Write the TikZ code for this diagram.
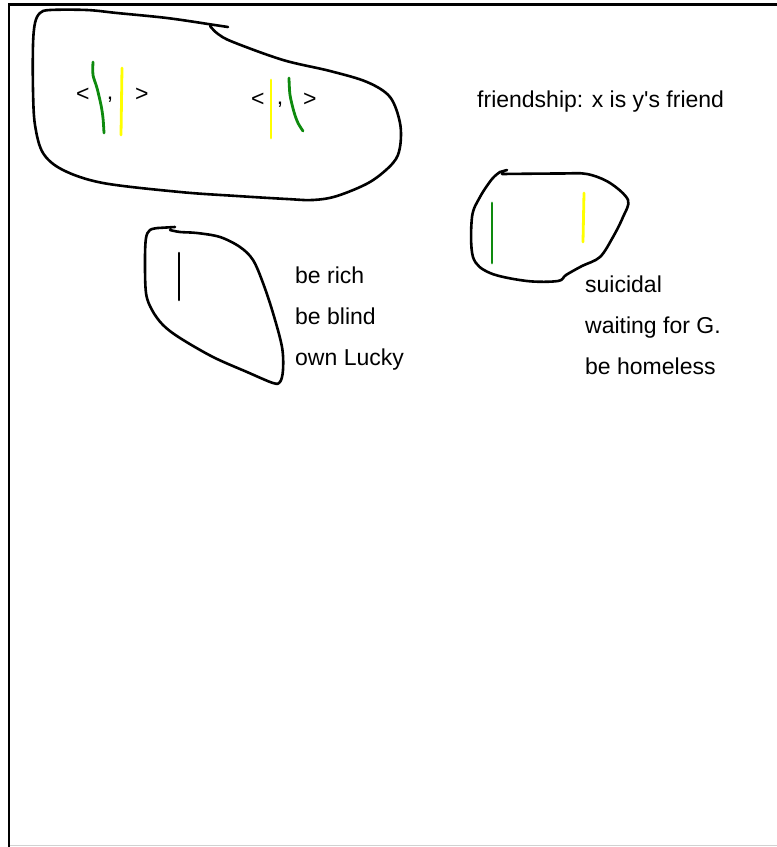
\documentclass[tikz,border=0pt]{standalone}
\usepackage{fontspec}
\newfontfamily\lsans{Liberation Sans}
\usetikzlibrary{positioning}
\definecolor{cG}{HTML}{0E8A0E}
\definecolor{cY}{HTML}{FFFF00}
\tikzset{
  blob/.style={line width=2.6pt,line cap=round,line join=round},
  gline/.style={cG,line width=2.8pt,line cap=round},
  yline/.style={cY,line width=2.8pt,line cap=round},
  lbl/.style={anchor=base west,inner sep=0pt,font=\lsans\fontsize{23}{27}\selectfont},
  pun/.style={anchor=base,inner sep=0pt,font=\lsans\fontsize{23}{27}\selectfont},
}

\begin{document}
\begin{tikzpicture}[x=1pt,y=-1pt]
  \useasboundingbox (0,0) rectangle (777,847);
  % frame
  \draw[line width=2.2pt] (9,847) -- (9,4.5) -- (777,4.5);
  \draw[black!18,line width=1.5pt] (10,845.5) -- (777,845.5);

  % big blob with the two pairs
  \draw[blob] (228,27) -- (208,24)
    plot[smooth,tension=.55] coordinates {(208,24) (167,18) (117,13) (87,10)
      (50,10) (40,13) (35,23) (33,45) (33,90) (35,125) (43,153) (63,170)
      (103,183) (180,192) (237,196) (287,199) (313,200) (337,196) (370,182)
      (393,163) (400,147) (400,123) (390,97) (367,82) (330,71) (283,60)
      (233,42) (218,34) (210,26)};
  \node[lbl] (lt1) at (76,101) {<};
  \draw[gline] plot[smooth] coordinates {(93,62) (93,75) (97,88) (101,105) (103,118) (104,133)};
  \node[pun] (cm1) at (110,99) {,};
  \draw[yline] (122,68) -- (121,135);
  \node[lbl] (gt1) at (135,101) {>};

  \node[lbl] (lt2) at (251,106) {<};
  \draw[yline] (271,80) -- (271,138);
  \node[pun] (cm2) at (280,104) {,};
  \draw[gline] plot[smooth] coordinates {(289,78) (290,95) (294,112) (298,123) (303,131)};
  \node[lbl] (gt2) at (303,106) {>};

  \node[lbl] (rel) at (477,107) {friendship: x is y's friend};

  % left blob
  \draw[blob] (175,227) -- (158,228)
    plot[smooth,tension=.55] coordinates {(158,228) (150,230) (146,238) (145,260)
      (146,293) (152,310) (163,325) (180,338) (213,357) (247,372) (273,383)
      (280,382) (283,370) (282,347) (273,313) (263,283) (253,260) (240,247)
      (220,237) (197,233) (180,232) (170,230)};
  \draw[blob] (179,253) -- (179,300);
  \foreach \t [count=\i] in {be rich,be blind,own Lucky}
    \node[lbl] (x\i) at (295,283+41*\i-41) {\t};

  % right blob
  \draw[blob] (507,170) -- (500,172)
    plot[smooth,tension=.55] coordinates {(500,172) (492,179) (480,197) (472,217)
      (473,257) (490,273) (527,281) (558,281) (566,275) (582,266) (600,257)
      (613,237) (623,217) (628,200) (610,183) (587,174) (560,173.5) (502,174)};
  \draw[gline] (492,203) -- (492,263);
  \draw[yline] (584,193) -- (583,242);
  \foreach \t [count=\i] in {suicidal,waiting for G.,be homeless}
    \node[lbl] (y\i) at (585,292+41*\i-41) {\t};
\end{tikzpicture}
\end{document}
